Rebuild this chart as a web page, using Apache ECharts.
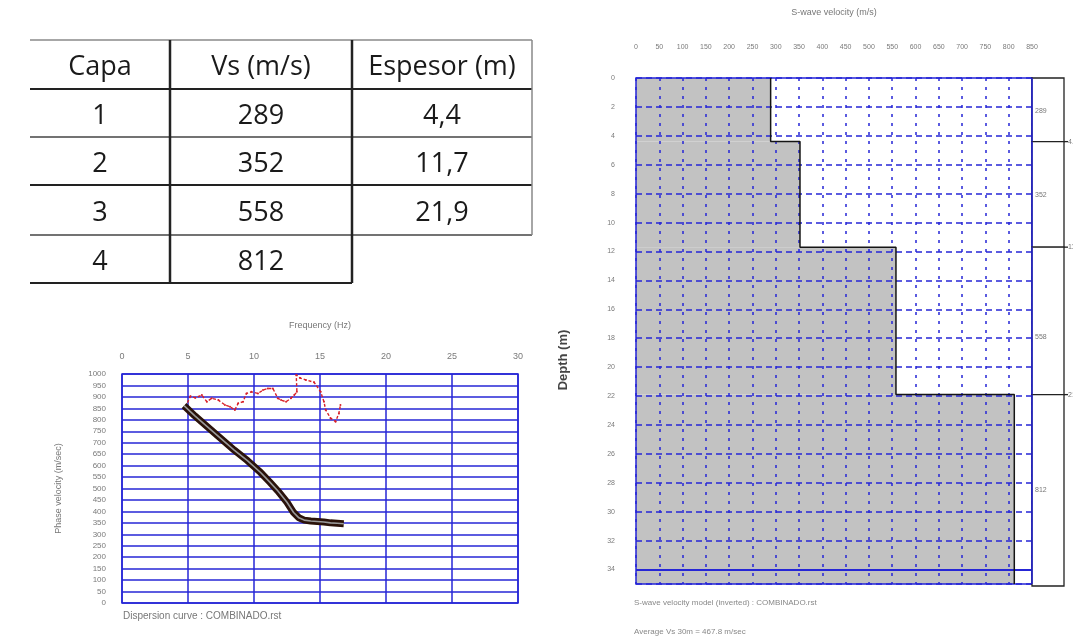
<!DOCTYPE html>
<html><head><meta charset="utf-8">
<script src="https://cdn.jsdelivr.net/npm/echarts@6/dist/echarts.min.js"></script>
<style>html,body{margin:0;padding:0;background:#fff}#c{width:1073px;height:643px}</style>
</head><body><div id="c"></div>
<script>
// ---- Table data ----
const tableHeader = ['Capa', 'Vs (m/s)', 'Espesor (m)'];
const capa = ['1', '2', '3', '4'];
const vsTable = ['289', '352', '558', '812'];
const espesor = ['4,4', '11,7', '21,9', ''];

// ---- S-wave velocity model ----
const layerVs = [289, 352, 558, 812];
const layerTop = [0, 4.4, 11.7, 21.9];
const layerBottom = [4.4, 11.7, 21.9, 35];
const layerLabelDepth = [2.3, 8.1, 17.9, 28.5];
const boundaryLabels = ['4.4', '11.7', '21.9'];
const depthTicks = [0, 2, 4, 6, 8, 10, 12, 14, 16, 18, 20, 22, 24, 26, 28, 30, 32, 34];

// ---- Dispersion curve ----
const freqObs = [4.8, 5.18, 5.55, 6.05, 6.43, 6.8, 7.3, 7.8, 8.18, 8.55, 8.8, 9.17, 9.43, 9.8, 10.3, 10.68, 11.05, 11.43, 11.8, 12.05, 12.43, 12.8, 13.05, 13.25, 13.2, 13.5, 13.93, 14.55, 15.05, 15.3, 15.43, 15.8, 16.18, 16.43, 16.55];
const velObs  = [855, 903, 896, 908, 879, 894, 886, 865, 857, 843, 872, 879, 915, 922, 915, 930, 937, 937, 894, 886, 879, 894, 908, 922, 996, 982, 974, 964, 922, 879, 843, 807, 792, 828, 865];
const freqTheo = [4.7, 5.5, 6.5, 7.5, 8.5, 9.5, 10.5, 11.2, 11.8, 12.5, 13.0, 13.4, 13.8, 14.3, 14.8, 15.3, 15.8, 16.3, 16.8];
const velTheo  = [862, 818, 768, 718, 668, 622, 570, 528, 490, 440, 395, 372, 362, 358, 356, 354, 350, 348, 346];

const BLUE = '#2626d6';
const LBL = '#7a7a7a';
const FONT = 'Liberation Sans';

const chart = echarts.init(document.getElementById('c'), null, {renderer: 'canvas'});

// table graphics
const colX = [30, 170, 352, 532];
const rowY = [40, 89, 137, 185, 235, 283];
const colC = [100, 261, 442];
const g = [];
function hline(y, x1, x2, c, w) { g.push({type: 'line', shape: {x1: x1, y1: y, x2: x2, y2: y}, style: {stroke: c, lineWidth: w}}); }
function vline(x, y1, y2, c, w) { g.push({type: 'line', shape: {x1: x, y1: y1, x2: x, y2: y2}, style: {stroke: c, lineWidth: w}}); }
hline(rowY[0], colX[0], colX[3], '#8a8a8a', 1.5);
hline(rowY[1], colX[0], colX[3], '#222', 2);
hline(rowY[2], colX[0], colX[3], '#444', 1.5);
hline(rowY[3], colX[0], colX[3], '#222', 2);
hline(rowY[4], colX[0], colX[3], '#444', 1.5);
hline(rowY[5], colX[0], colX[2], '#222', 2);
vline(colX[1], rowY[0], rowY[5], '#222', 2.5);
vline(colX[2], rowY[0], rowY[5], '#222', 2.5);
vline(colX[3], rowY[0], rowY[4], '#888', 1.5);
const rows = [tableHeader].concat(capa.map((c, i) => [c, vsTable[i], espesor[i]]));
rows.forEach((r, ri) => {
  const ym = (rowY[ri] + rowY[ri + 1]) / 2 + 3;
  r.forEach((t, ci) => {
    if (t === '') return;
    g.push({type: 'text', x: colC[ci], y: ym, style: {text: t, fill: '#1a1a1a', font: '27px "Open Sans"', align: 'center', verticalAlign: 'middle'}});
  });
});
g.push({type: 'text', x: 123, y: 616, style: {text: 'Dispersion curve : COMBINADO.rst', fill: '#777', font: '10px "Liberation Sans"', verticalAlign: 'middle'}});
g.push({type: 'text', x: 634, y: 603, style: {text: 'S-wave velocity model (inverted) : COMBINADO.rst', fill: '#888', font: '8px "Liberation Sans"', verticalAlign: 'middle'}});
g.push({type: 'text', x: 634, y: 632, style: {text: 'Average Vs 30m = 467.8 m/sec', fill: '#888', font: '8px "Liberation Sans"', verticalAlign: 'middle'}});
g.push({type: 'text', x: 563, y: 360, rotation: Math.PI / 2, style: {text: 'Depth (m)', fill: '#444', font: 'bold 13px "Liberation Sans Narrow", "Liberation Sans"', align: 'center', verticalAlign: 'middle'}});

const profile = [];
layerVs.forEach((v, i) => { profile.push([v, layerTop[i]]); profile.push([v, layerBottom[i]]); });

const option = {
  backgroundColor: '#fff',
  animation: false,
  graphic: g,
  grid: [
    {left: 122, top: 374, width: 396, height: 229, show: true, borderColor: BLUE, borderWidth: 1.5, backgroundColor: 'transparent'},
    {left: 636, top: 78, width: 396, height: 506, show: true, borderColor: BLUE, borderWidth: 1.5, backgroundColor: 'transparent'}
  ],
  xAxis: [
    {gridIndex: 0, type: 'value', position: 'top', min: 0, max: 30, interval: 5,
     name: 'Frequency (Hz)', nameLocation: 'middle', nameGap: 44,
     nameTextStyle: {color: '#777', fontSize: 9, fontFamily: FONT},
     axisLine: {show: false}, axisTick: {show: false},
     axisLabel: {color: LBL, fontSize: 9, fontFamily: FONT, margin: 13, formatter: v => String(v)},
     splitLine: {show: true, lineStyle: {color: BLUE, width: 1.5}}},
    {gridIndex: 1, type: 'value', position: 'top', min: 0, max: 850, interval: 50,
     name: 'S-wave velocity (m/s)', nameLocation: 'middle', nameGap: 61,
     nameTextStyle: {color: '#777', fontSize: 9, fontFamily: FONT},
     axisLine: {show: false}, axisTick: {show: false},
     axisLabel: {color: LBL, fontSize: 7, fontFamily: FONT, margin: 27, formatter: v => String(v)},
     splitLine: {show: true, lineStyle: {color: BLUE, width: 1.5, type: [3, 6]}}}
  ],
  yAxis: [
    {gridIndex: 0, type: 'value', min: 0, max: 1000, interval: 50,
     name: 'Phase velocity (m/sec)', nameLocation: 'middle', nameGap: 59,
     nameTextStyle: {color: '#777', fontSize: 9, fontFamily: FONT},
     axisLine: {show: false}, axisTick: {show: false},
     axisLabel: {color: LBL, fontSize: 8, fontFamily: FONT, margin: 16, padding: [0, 0, 6, 0], formatter: v => String(v)},
     splitLine: {show: true, lineStyle: {color: BLUE, width: 1.5}}},
    {gridIndex: 1, type: 'value', inverse: true, min: 0, max: 35, interval: 2,
     axisLine: {show: false}, axisTick: {show: false},
     axisLabel: {color: LBL, fontSize: 7, fontFamily: FONT, margin: 21, padding: [0, 0, 8, 0],
       formatter: v => depthTicks.indexOf(v) >= 0 ? String(v) : ''},
     splitLine: {show: true, lineStyle: {color: BLUE, width: 1.5, type: [6, 4]}}}
  ],
  series: [
    {type: 'line', xAxisIndex: 0, yAxisIndex: 0, data: freqObs.map((f, i) => [f, velObs[i]]), smooth: false,
     showSymbol: true, symbol: 'circle', symbolSize: 2, itemStyle: {color: '#d82028'},
     lineStyle: {color: '#d82028', width: 1.4, type: [3, 2]}, z: 4},
    {type: 'line', xAxisIndex: 0, yAxisIndex: 0, data: freqTheo.map((f, i) => [f, velTheo[i]]), smooth: false,
     showSymbol: false, lineStyle: {color: '#2a120a', width: 7}, z: 5},
    {type: 'line', xAxisIndex: 0, yAxisIndex: 0, data: freqTheo.map((f, i) => [f, velTheo[i]]), smooth: false,
     showSymbol: false, lineStyle: {color: '#9a9a9a', width: 1.6}, z: 6},
    {type: 'custom', xAxisIndex: 1, yAxisIndex: 1, z: -1, clip: true,
     data: layerVs.map((v, i) => [v, layerTop[i], layerBottom[i]]),
     encode: {x: 0, y: [1, 2]},
     renderItem: (params, api) => {
       const p0 = api.coord([0, api.value(1)]);
       const p1 = api.coord([api.value(0), api.value(2)]);
       return {type: 'rect', shape: {x: p0[0], y: p0[1], width: p1[0] - p0[0], height: p1[1] - p0[1]}, style: {fill: '#c2c2c2'}};
     }},
    {type: 'line', xAxisIndex: 1, yAxisIndex: 1, data: profile, showSymbol: false, smooth: false,
     lineStyle: {color: '#151515', width: 1.5}, z: 5,
     markLine: {silent: true, symbol: 'none', label: {show: false},
       lineStyle: {color: BLUE, width: 1.8, type: 'solid'}, data: [{yAxis: 34}]}},
    {type: 'custom', xAxisIndex: 1, yAxisIndex: 1, z: 6, clip: false,
     data: layerVs.map((v, i) => [850, layerTop[i], layerBottom[i], layerLabelDepth[i], v]),
     encode: {x: 0, y: [1, 2]},
     renderItem: (params, api) => {
       const i = params.dataIndex;
       const a = api.coord([850, api.value(1)]);
       const b = api.coord([850, api.value(2)]);
       const lab = api.coord([850, api.value(3)]);
       const ch = [
         {type: 'rect', shape: {x: a[0], y: a[1], width: 32, height: b[1] - a[1] + (i === 3 ? 2 : 0)},
          style: {fill: '#fff', stroke: '#222', lineWidth: 1.3}},
         {type: 'text', x: a[0] + 3, y: lab[1], style: {text: String(api.value(4)), fill: '#777', font: '7px "Liberation Sans"', verticalAlign: 'middle'}}
       ];
       if (i > 0) {
         ch.push({type: 'line', shape: {x1: a[0] + 32, y1: a[1], x2: a[0] + 36, y2: a[1]}, style: {stroke: '#222', lineWidth: 1.3}});
         ch.push({type: 'text', x: a[0] + 36, y: a[1], style: {text: boundaryLabels[i - 1], fill: '#777', font: '7px "Liberation Sans"', verticalAlign: 'middle'}});
       }
       ch.push({type: 'line', shape: {x1: a[0], y1: a[1], x2: a[0], y2: b[1]}, style: {stroke: BLUE, lineWidth: 1.5}});
       return {type: 'group', children: ch};
     }}
  ]
};
chart.setOption(option);
</script>
</body></html>
